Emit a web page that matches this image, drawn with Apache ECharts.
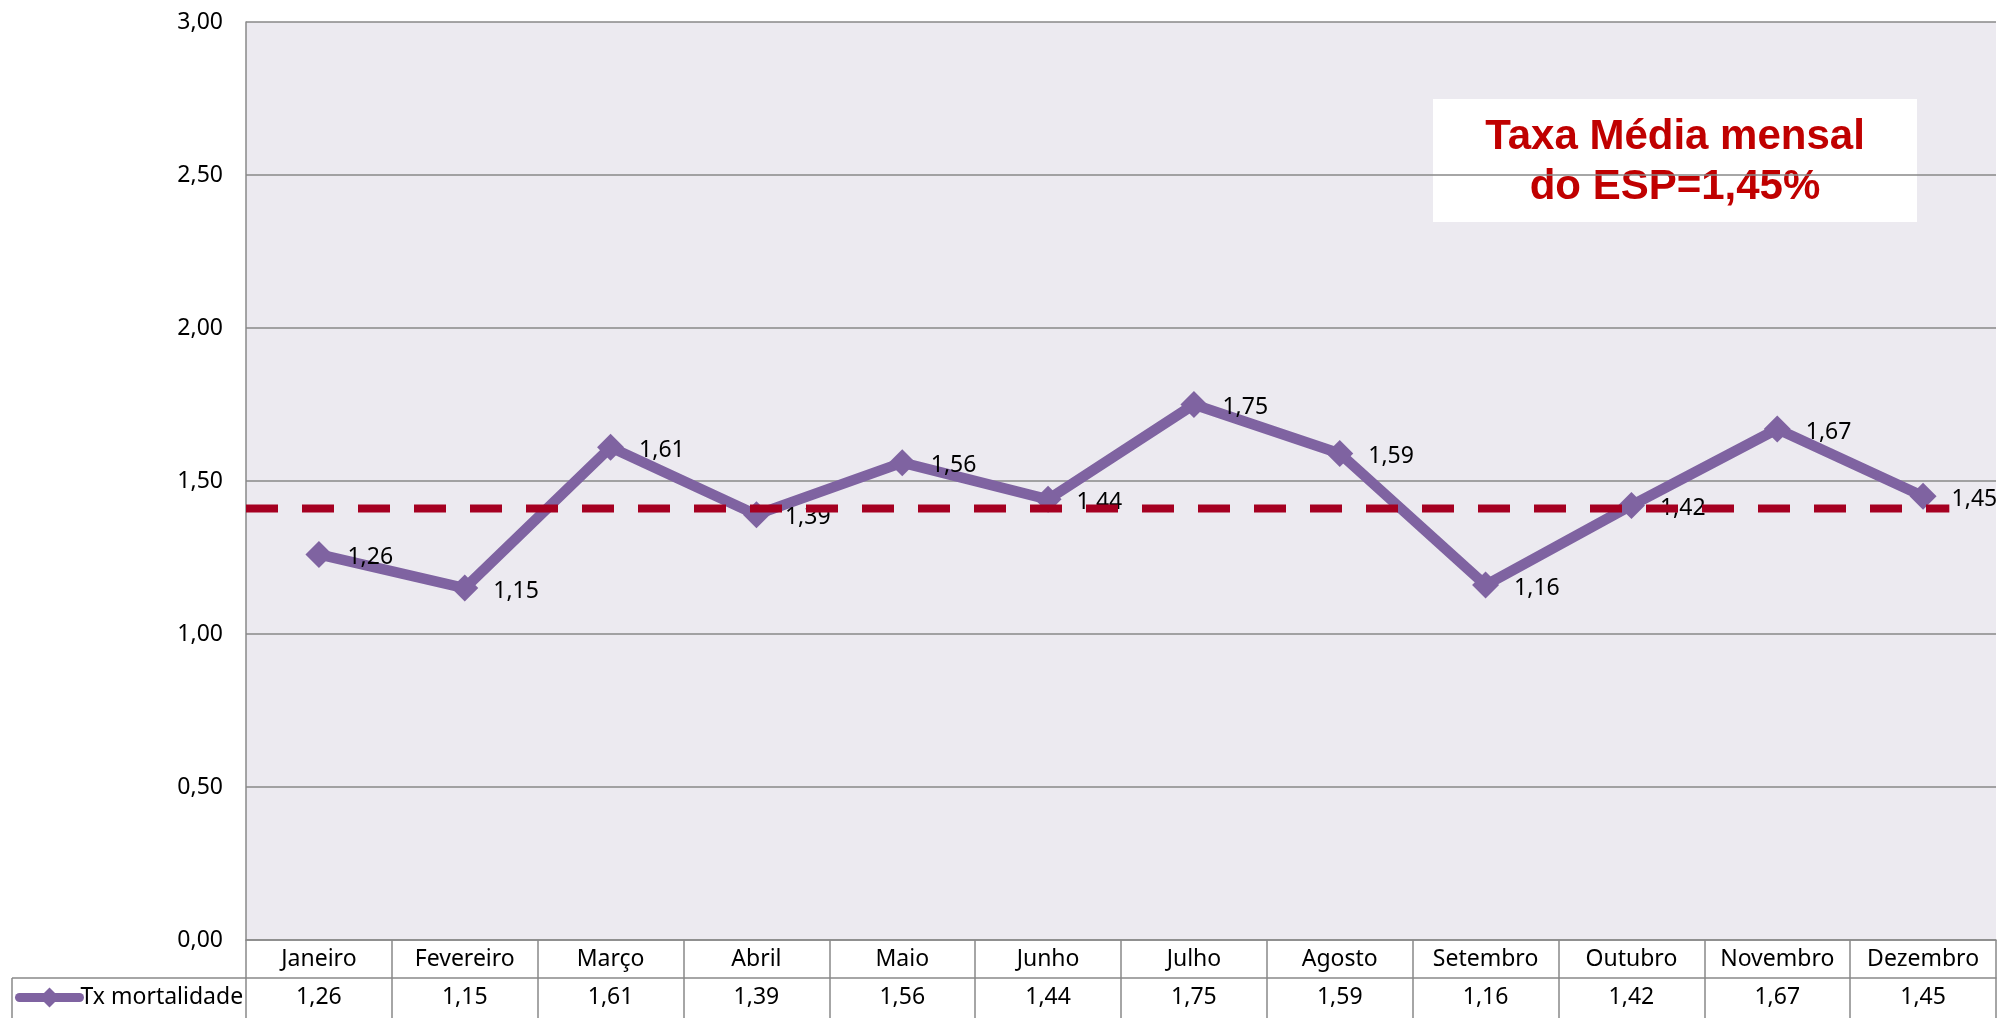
<!DOCTYPE html>
<html>
<head>
<meta charset="utf-8">
<title>Tx mortalidade</title>
<script src="https://cdn.jsdelivr.net/npm/echarts@6/dist/echarts.min.js"></script>
<style>
html, body { margin: 0; padding: 0; background: #fff; }
#chartdiv { width: 2000px; height: 1018px; }
</style>
</head>
<body>
<div id="chartdiv"></div>
<script>
// dados
var meses = ['Janeiro', 'Fevereiro', 'Março', 'Abril', 'Maio', 'Junho',
             'Julho', 'Agosto', 'Setembro', 'Outubro', 'Novembro', 'Dezembro'];
var txMortalidade = [1.26, 1.15, 1.61, 1.39, 1.56, 1.44, 1.75, 1.59, 1.16, 1.42, 1.67, 1.45];
var eixoYMin = 0, eixoYMax = 3, eixoYPasso = 0.5;
// linha tracejada da media (x no eixo auxiliar 0..12)
var linhaMedia = [[0, 1.41], [11.68, 1.41]];
var textoMedia = ['Taxa Média mensal', 'do ESP=1,45%'];

function virgula(v) {
    return v.toFixed(2).replace('.', ',');
}

var corLinha = '#7F63A1';
var corGrade = '#898989';
var fonte = 'Noto Sans';

var option = {
    animation: false,
    grid: {
        left: 246,
        right: 4,
        top: 22,
        bottom: 78,
        show: true,
        backgroundColor: '#ECEAF0',
        borderWidth: 0
    },
    legend: {
        data: ['Tx mortalidade'],
        left: 10,
        top: 981,
        itemWidth: 60,
        itemHeight: 25,
        itemGap: 0,
        selectedMode: false,
        lineStyle: { width: 9, cap: 'round' },
        textStyle: { fontFamily: fonte, fontSize: 23, color: '#000', padding: [0, 0, 0, -4] }
    },
    xAxis: [{
        type: 'category',
        data: meses,
        position: 'bottom',
        axisLine: { show: true, lineStyle: { color: corGrade, width: 1.5 } },
        axisTick: { show: true, length: 78, interval: 0, lineStyle: { color: corGrade, width: 1.5 } },
        axisLabel: { interval: 0, margin: 8, fontFamily: fonte, fontSize: 23, color: '#000' },
        splitLine: { show: false }
    }, {
        type: 'category',
        data: txMortalidade.map(virgula),
        position: 'bottom',
        offset: 38,
        axisLine: { show: true, lineStyle: { color: corGrade, width: 1.5 } },
        axisTick: { show: false },
        axisLabel: { interval: 0, margin: 8, fontFamily: fonte, fontSize: 23, color: '#000' },
        splitLine: { show: false }
    }, {
        type: 'value',
        min: 0,
        max: 12,
        show: false
    }],
    yAxis: {
        type: 'value',
        min: eixoYMin,
        max: eixoYMax,
        interval: eixoYPasso,
        axisLine: { show: true, lineStyle: { color: corGrade, width: 1.5 } },
        axisTick: { show: false },
        axisLabel: {
            margin: 23,
            fontFamily: fonte,
            fontSize: 23,
            color: '#000',
            formatter: function (v) { return virgula(v); }
        },
        splitLine: { show: true, lineStyle: { color: corGrade, width: 1.5 } }
    },
    graphic: [
        { type: 'line', shape: { x1: 12, y1: 978, x2: 246, y2: 978 }, style: { stroke: corGrade, lineWidth: 1.5 } },
        { type: 'line', shape: { x1: 12, y1: 978, x2: 12, y2: 1018 }, style: { stroke: corGrade, lineWidth: 1.5 } },
        {
            type: 'group',
            z: 100,
            children: [{
                type: 'rect',
                shape: { x: 1433, y: 99, width: 484, height: 123 },
                style: { fill: '#fff' }
            }, {
                type: 'text',
                x: 1675,
                y: 162,
                style: {
                    text: textoMedia.join('\n'),
                    fill: '#C00000',
                    font: 'bold 42px "Liberation Sans", Arial, sans-serif',
                    lineHeight: 50,
                    align: 'center',
                    verticalAlign: 'middle'
                }
            }]
        }
    ],
    series: [{
        name: 'Tx mortalidade',
        type: 'line',
        xAxisIndex: 0,
        data: txMortalidade,
        symbol: 'diamond',
        symbolSize: 27,
        z: 2,
        lineStyle: { color: corLinha, width: 10.5 },
        itemStyle: { color: corLinha },
        label: {
            show: true,
            position: 'right',
            distance: 15,
            offset: [0, 3],
            fontFamily: fonte,
            fontSize: 23,
            color: '#000',
            formatter: function (p) { return virgula(p.value); }
        }
    }, {
        name: 'media',
        type: 'line',
        xAxisIndex: 2,
        data: linhaMedia,
        symbol: 'none',
        z: 5,
        silent: true,
        lineStyle: { color: '#A50021', width: 8, type: [32, 24] }
    }]
};

var chart = echarts.init(document.getElementById('chartdiv'));
chart.setOption(option);
</script>
</body>
</html>
